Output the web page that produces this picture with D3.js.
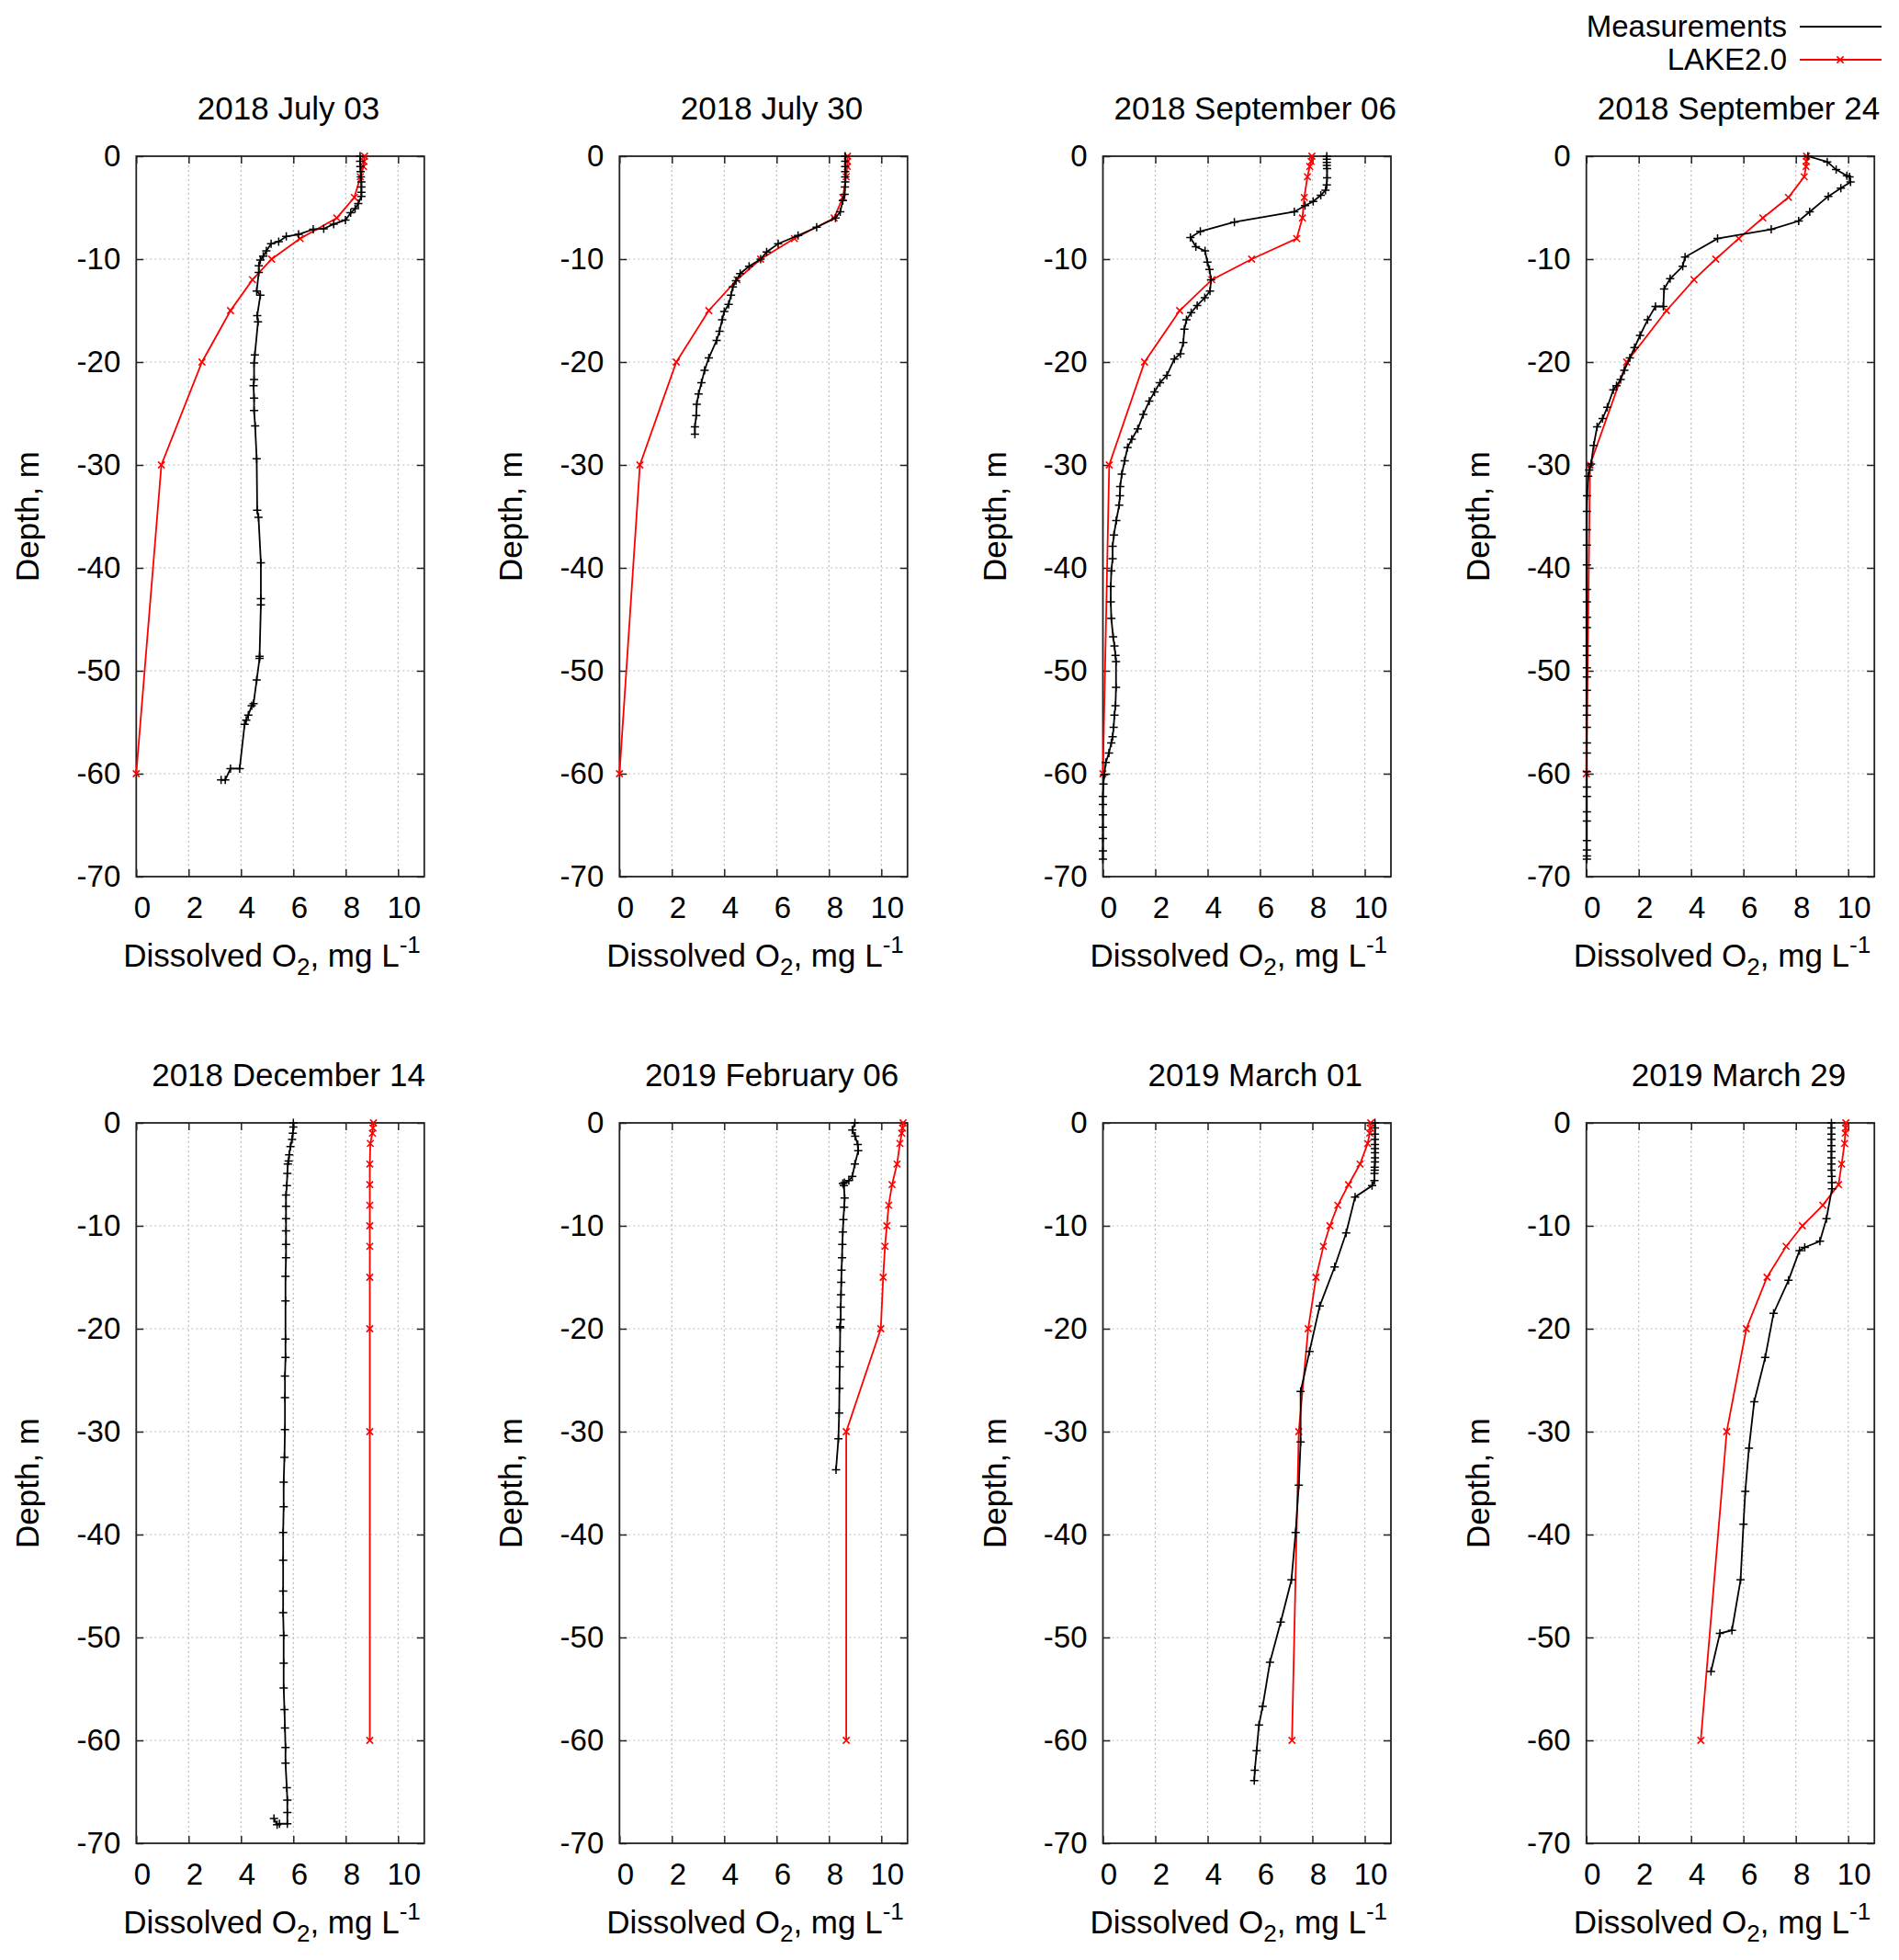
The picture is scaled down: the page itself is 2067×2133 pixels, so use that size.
<!DOCTYPE html>
<html>
<head>
<meta charset="utf-8">
<script src="https://cdn.jsdelivr.net/npm/d3@7"></script>
<style>
  html, body { margin: 0; padding: 0; background: #fff; }
  svg { display: block; font-family: "Liberation Sans", Arial, Helvetica, sans-serif; }
</style>
</head>
<body>
<svg id="chart" width="2067" height="2133"></svg>
<script>
// ---------------- DATA ----------------
const panelTitles = [
  "2018 July 03", "2018 July 30", "2018 September 06", "2018 September 24",
  "2018 December 14", "2019 February 06", "2019 March 01", "2019 March 29"
];
const seriesNames = ["Measurements", "LAKE2.0"];
const xTicks = [0, 2, 4, 6, 8, 10];
const xTickLabels = ["0", "2", "4", "6", "8", "10"];
const yTicks = [0, -10, -20, -30, -40, -50, -60, -70];
const yTickLabels = ["0", "-10", "-20", "-30", "-40", "-50", "-60", "-70"];
const xLabelParts = ["Dissolved O", "2", ", mg L", "-1"];
const yLabel = "Depth, m";

// model (LAKE2.0) depths, m
const modelDepths = [0, -0.5, -1, -2, -4, -6, -8, -10, -12, -15, -20, -30, -60];
// model O2, mg/L, one array per date
const modelJul03 = [8.72, 8.70, 8.68, 8.56, 8.33, 7.66, 6.26, 5.17, 4.44, 3.60, 2.51, 0.96, 0.0];
const modelJul30 = [8.71, 8.71, 8.70, 8.66, 8.53, 8.20, 6.68, 5.39, 4.49, 3.41, 2.17, 0.78, 0.0];
const modelSep06 = [7.98, 7.95, 7.90, 7.81, 7.69, 7.62, 7.40, 5.68, 4.16, 2.93, 1.59, 0.24, 0.0];
const modelSep24 = [8.41, 8.40, 8.39, 8.32, 7.72, 6.74, 5.82, 4.94, 4.11, 3.06, 1.54, 0.14, 0.0];
const modelDec14 = [9.06, 9.04, 9.02, 8.94, 8.92, 8.92, 8.92, 8.92, 8.92, 8.92, 8.92, 8.92, 8.92];
const modelFeb06 = [10.83, 10.81, 10.78, 10.71, 10.60, 10.41, 10.28, 10.21, 10.14, 10.07, 9.98, 8.66, 8.66];
const modelMar01 = [10.23, 10.21, 10.19, 10.11, 9.82, 9.38, 8.97, 8.67, 8.42, 8.14, 7.84, 7.48, 7.22];
const modelMar29 = [9.91, 9.90, 9.89, 9.86, 9.75, 9.63, 9.03, 8.25, 7.63, 6.90, 6.11, 5.36, 4.37];

// measurements: [depth m, O2 mg/L]
const measJul03 = [[0,8.55],[-0.5,8.55],[-1,8.56],[-1.5,8.57],[-2,8.58],[-2.5,8.6],[-3,8.6],[-3.5,8.6],[-3.9,8.6],
  [-4.6,8.48],[-5.1,8.36],[-5.5,8.19],[-6.2,7.99],[-6.6,7.54],[-7.05,7.16],[-7.1,6.76],[-7.6,6.2],[-7.8,5.73],
  [-8.3,5.44],[-8.5,5.15],[-9.2,4.97],[-9.7,4.85],[-10.1,4.74],[-10.65,4.68],[-11.3,4.68],[-13.1,4.6],[-13.5,4.74],
  [-15.5,4.62],[-16.1,4.65],[-19.3,4.53],[-20.1,4.5],[-21.7,4.5],[-22.3,4.48],[-23.5,4.5],[-24.7,4.5],[-26.2,4.54],
  [-29.4,4.6],[-34.4,4.62],[-35.1,4.67],[-39.5,4.76],[-43.0,4.76],[-43.6,4.76],[-48.6,4.71],[-48.8,4.71],[-50.9,4.6],
  [-53.2,4.48],[-53.4,4.41],[-54.3,4.28],[-54.8,4.2],[-55.2,4.14],[-59.5,3.95],[-59.5,3.6],[-60.6,3.4],[-60.6,3.24]];
const measJul30 = [[0,8.62],[-0.5,8.62],[-1,8.62],[-1.5,8.62],[-2,8.62],[-2.5,8.62],[-3,8.61],[-3.7,8.6],[-4.3,8.53],
  [-5.4,8.43],[-6.0,8.25],[-6.9,7.53],[-7.7,6.82],[-8.5,6.06],[-9.3,5.62],[-10,5.39],[-10.7,4.95],[-11.4,4.61],
  [-12.1,4.45],[-12.7,4.33],[-13.5,4.26],[-14.4,4.17],[-15.1,4.0],[-15.9,3.92],[-17,3.82],[-17.9,3.71],[-19.6,3.41],
  [-20.8,3.25],[-22,3.13],[-23.1,3.02],[-24.1,2.95],[-25.2,2.93],[-26.3,2.88],[-27,2.88]];
const measSep06 = [[0,8.55],[-0.3,8.55],[-0.6,8.55],[-0.9,8.55],[-1.2,8.56],[-2.1,8.56],[-2.8,8.55],[-3.3,8.5],
  [-3.8,8.32],[-4.4,8.03],[-4.8,7.72],[-5.4,7.31],[-6.4,5.02],[-7.3,3.72],[-7.9,3.34],[-8.8,3.55],[-9.2,3.9],
  [-10.3,3.99],[-11,4.07],[-12,4.13],[-13.1,4.09],[-13.75,3.89],[-14.5,3.6],[-15.2,3.37],[-15.9,3.19],[-16.8,3.11],
  [-18.1,3.07],[-19.2,2.96],[-19.7,2.73],[-21.3,2.44],[-22,2.18],[-22.9,1.97],[-23.8,1.77],[-25.1,1.54],[-26.5,1.33],
  [-27.5,1.1],[-28.3,0.94],[-29.6,0.83],[-30.9,0.72],[-32.1,0.66],[-33,0.65],[-33.9,0.62],[-35.4,0.51],[-36.8,0.42],
  [-37.9,0.37],[-39.1,0.37],[-40.3,0.32],[-41.8,0.3],[-43.3,0.3],[-44.9,0.32],[-46.7,0.39],[-47.6,0.44],[-48.5,0.48],
  [-49.1,0.5],[-51.6,0.5],[-53.4,0.48],[-54.3,0.44],[-55.5,0.41],[-56.4,0.37],[-57,0.32],[-58,0.23],[-58.9,0.11],
  [-60.1,0.05],[-61,0.02],[-62.2,0.0],[-63,0.0],[-64,0.0],[-65.2,0.0],[-66.3,0.0],[-67.5,0.0],[-68.3,0.0]];
const measSep24 = [[0,8.46],[-0.55,9.2],[-1.3,9.54],[-1.9,9.95],[-2.0,10.05],[-2.5,10.09],[-3.1,9.72],[-3.9,9.24],
  [-5.4,8.53],[-6.3,8.11],[-7.1,7.06],[-8.0,5.01],[-9.8,3.77],[-10.7,3.68],[-11.9,3.2],[-12.9,2.97],[-14.6,2.94],
  [-14.6,2.64],[-15.9,2.34],[-17.4,2.05],[-18.6,1.84],[-19.6,1.66],[-20.8,1.45],[-21.7,1.31],[-22.3,1.15],[-22.7,1.03],
  [-24.4,0.8],[-25.5,0.62],[-26.3,0.41],[-28.1,0.28],[-29.9,0.18],[-30.5,0.11],[-31.1,0.07],[-33,0.03],[-34.5,0.02],
  [-36.3,0.02],[-37.8,0.02],[-39.7,0.02],[-42.1,0.02],[-43.3,0.02],[-44.8,0.02],[-45.8,0.02],[-47.6,0.02],[-48.5,0.02],
  [-49.7,0.02],[-50.6,0.02],[-51.9,0.02],[-53.4,0.02],[-54.3,0.02],[-55.5,0.02],[-57,0.02],[-58,0.02],[-59.8,0.02],
  [-61.3,0.02],[-62.2,0.02],[-63.7,0.02],[-64.6,0.02],[-66.5,0.02],[-67.4,0.02],[-68,0.02],[-68.3,0.02]];
const measDec14 = [[0,6.0],[-0.4,6.0],[-1,5.98],[-1.6,5.95],[-2.3,5.89],[-3.1,5.84],[-3.7,5.82],[-4,5.79],[-4.9,5.77],
  [-6.1,5.75],[-7,5.72],[-8.1,5.72],[-9.3,5.72],[-10.5,5.72],[-11.8,5.72],[-13.1,5.72],[-14.9,5.7],[-17.3,5.7],
  [-21,5.7],[-22.8,5.7],[-24.6,5.68],[-26.7,5.68],[-29.8,5.68],[-32.5,5.66],[-34.9,5.63],[-37.3,5.63],[-39.8,5.61],
  [-42.5,5.61],[-45.5,5.61],[-47.6,5.61],[-49.8,5.63],[-52.5,5.63],[-54.9,5.63],[-57,5.66],[-58.8,5.68],[-60.7,5.7],
  [-62.2,5.7],[-64.6,5.75],[-65.8,5.77],[-67,5.77],[-68.1,5.77],[-68.1,5.47],[-68.2,5.38],[-67.6,5.26]];
const measFeb06 = [[0,8.99],[-0.7,8.89],[-1.3,9.0],[-2.1,9.1],[-2.7,9.12],[-4,8.99],[-5.2,8.89],[-5.6,8.76],
  [-5.8,8.59],[-5.9,8.53],[-6.1,8.57],[-7.3,8.6],[-8.2,8.58],[-9.4,8.55],[-10.6,8.53],[-11.8,8.51],[-13.1,8.5],
  [-14.3,8.48],[-15.5,8.47],[-16.7,8.46],[-17.9,8.45],[-19.1,8.45],[-19.8,8.42],[-19.9,8.43],[-22.2,8.42],
  [-23.7,8.41],[-25.8,8.4],[-28.2,8.39],[-30.7,8.36],[-33.7,8.27]];
const measMar01 = [[0,10.39],[-0.5,10.39],[-1.1,10.39],[-1.6,10.39],[-2.1,10.39],[-2.5,10.39],[-2.9,10.39],
  [-3.4,10.39],[-3.8,10.39],[-4.3,10.38],[-4.6,10.38],[-4.9,10.37],[-5.6,10.37],[-6.1,10.28],[-7.2,9.63],[-10.7,9.29],
  [-14,8.85],[-17.8,8.28],[-22.2,7.89],[-26.1,7.55],[-31,7.55],[-35.2,7.48],[-39.8,7.36],[-44.4,7.2],[-48.5,6.79],
  [-52.4,6.38],[-56.7,6.1],[-58.5,5.96],[-61,5.87],[-62.9,5.8],[-63.9,5.78]];
const measMar29 = [[0,9.36],[-0.5,9.36],[-1.1,9.36],[-1.6,9.36],[-2.2,9.36],[-2.8,9.36],[-3.4,9.36],[-4,9.36],
  [-4.6,9.36],[-5.2,9.37],[-5.8,9.37],[-6.4,9.38],[-9.3,9.17],[-11.5,8.92],[-12.1,8.34],[-12.4,8.14],[-15.3,7.72],
  [-18.5,7.15],[-22.8,6.83],[-27.1,6.41],[-31.6,6.21],[-35.8,6.07],[-39,6.0],[-44.4,5.89],[-49.3,5.56],[-49.6,5.1],
  [-53.3,4.76]];

const modelSeries = [modelJul03, modelJul30, modelSep06, modelSep24, modelDec14, modelFeb06, modelMar01, modelMar29];
const measSeries = [measJul03, measJul30, measSep06, measSep24, measDec14, measFeb06, measMar01, measMar29];

// ---------------- LAYOUT ----------------
const colLeft = [148.3, 674.3, 1200.5, 1726.7];
const rowTop = [170, 1222];
const PW = 313.5, PH = 784;
const FS_TICK = 33, FS_TEXT = 35, FS_LEGEND = 33;
const BLACK = "#000", RED = "#ff0000";

const svg = d3.select("#chart");
svg.append("rect").attr("width", 2067).attr("height", 2133).attr("fill", "#fff");

const plus = "M-4.5,0H4.5M0,-4.5V4.5";
const cross = "M-3.6,-3.6L3.6,3.6M-3.6,3.6L3.6,-3.6";

panelTitles.forEach((title, i) => {
  const left = colLeft[i % 4], top = rowTop[Math.floor(i / 4)];
  const x = d3.scaleLinear().domain([0, 11]).range([left, left + PW]);
  const y = d3.scaleLinear().domain([-70, 0]).range([top + PH, top]);
  const g = svg.append("g");

  // grid
  g.append("g").selectAll("line").data(xTicks.filter(t => t > 0)).join("line")
    .attr("x1", d => x(d)).attr("x2", d => x(d)).attr("y1", top).attr("y2", top + PH)
    .attr("stroke", "#bdbdbd").attr("stroke-width", 1.2).attr("stroke-dasharray", "2,3");
  g.append("g").selectAll("line").data(yTicks.filter(t => t > -70 && t < 0)).join("line")
    .attr("y1", d => y(d)).attr("y2", d => y(d)).attr("x1", left).attr("x2", left + PW)
    .attr("stroke", "#bdbdbd").attr("stroke-width", 1.2).attr("stroke-dasharray", "2,3");

  // axes (ticks inward on all sides)
  const styleAxis = (sel) => {
    sel.select(".domain").remove();
    sel.selectAll(".tick line").attr("stroke", "#222").attr("stroke-width", 1.5);
    sel.selectAll(".tick text").attr("fill", "#000").style("font-size", FS_TICK + "px")
      .style("font-family", "'Liberation Sans', Arial, sans-serif");
  };
  g.append("g").attr("transform", `translate(0,${top + PH})`)
    .call(d3.axisBottom(x).tickValues(xTicks).tickFormat((d, k) => xTickLabels[k])
      .tickSizeInner(-8).tickSizeOuter(0).tickPadding(22)).call(styleAxis)
    .selectAll(".tick text").attr("dx", 6);
  g.append("g").attr("transform", `translate(0,${top})`)
    .call(d3.axisTop(x).tickValues(xTicks).tickFormat("").tickSizeInner(-8).tickSizeOuter(0)).call(styleAxis);
  g.append("g").attr("transform", `translate(${left},0)`)
    .call(d3.axisLeft(y).tickValues(yTicks).tickFormat((d, k) => yTickLabels[k])
      .tickSizeInner(-8).tickSizeOuter(0).tickPadding(17)).call(styleAxis);
  g.append("g").attr("transform", `translate(${left + PW},0)`)
    .call(d3.axisRight(y).tickValues(yTicks).tickFormat("").tickSizeInner(-8).tickSizeOuter(0)).call(styleAxis);

  // border
  g.append("rect").attr("x", left).attr("y", top).attr("width", PW).attr("height", PH)
    .attr("fill", "none").attr("stroke", "#222").attr("stroke-width", 1.8);

  // model line
  const line = d3.line().x(d => x(d[1])).y(d => y(d[0]));
  const model = modelDepths.map((d, k) => [d, modelSeries[i][k]]);
  g.append("path").datum(model).attr("d", line).attr("fill", "none")
    .attr("stroke", RED).attr("stroke-width", 1.8);
  g.append("g").selectAll("path").data(model).join("path")
    .attr("d", cross).attr("transform", d => `translate(${x(d[1])},${y(d[0])})`)
    .attr("stroke", RED).attr("stroke-width", 1.6).attr("fill", "none");

  // measurement line
  const meas = measSeries[i];
  g.append("path").datum(meas).attr("d", line).attr("fill", "none")
    .attr("stroke", BLACK).attr("stroke-width", 1.8);
  g.append("g").selectAll("path").data(meas).join("path")
    .attr("d", plus).attr("transform", d => `translate(${x(d[1])},${y(d[0])})`)
    .attr("stroke", BLACK).attr("stroke-width", 1.5).attr("fill", "none");

  // title
  g.append("text").attr("x", left + PW / 2 + 9).attr("y", top - 40)
    .attr("text-anchor", "middle").style("font-size", FS_TEXT + "px").text(title);

  // x label
  const xl = g.append("text").attr("x", left + PW / 2 - 9).attr("y", top + PH + 98)
    .attr("text-anchor", "middle").style("font-size", FS_TEXT + "px");
  xl.append("tspan").text(xLabelParts[0]);
  xl.append("tspan").attr("dy", 9).style("font-size", "26px").text(xLabelParts[1]);
  xl.append("tspan").attr("dy", -9).text(xLabelParts[2]);
  xl.append("tspan").attr("dy", -15).style("font-size", "26px").text(xLabelParts[3]);

  // y label
  g.append("text").attr("transform", `translate(${left - 106},${top + PH / 2}) rotate(-90)`)
    .attr("text-anchor", "middle").style("font-size", FS_TEXT + "px").text(yLabel);
});

// legend
const leg = svg.append("g");
const legY = [29, 65];
seriesNames.forEach((name, k) => {
  leg.append("text").attr("x", 1945).attr("y", legY[k] + 11).attr("text-anchor", "end")
    .style("font-size", FS_LEGEND + "px").text(name);
  leg.append("line").attr("x1", 1959).attr("x2", 2048).attr("y1", legY[k]).attr("y2", legY[k])
    .attr("stroke", k === 0 ? BLACK : RED).attr("stroke-width", 1.8);
});
leg.append("path").attr("d", cross).attr("transform", `translate(2003,${legY[1]})`)
  .attr("stroke", RED).attr("stroke-width", 1.6).attr("fill", "none");
</script>
</body>
</html>
